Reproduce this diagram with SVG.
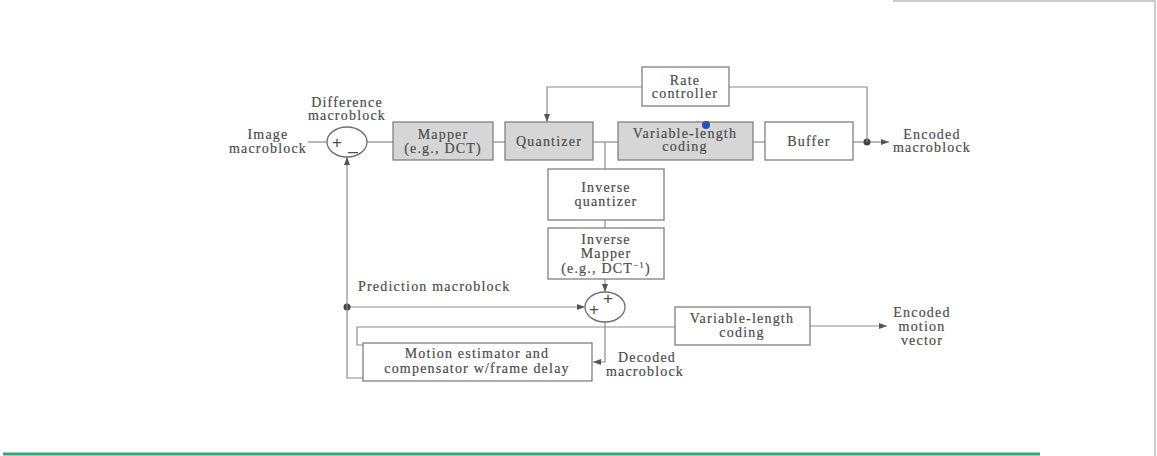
<svg xmlns="http://www.w3.org/2000/svg" width="1157" height="456" viewBox="0 0 1157 456">
<defs>
<marker id="ah" markerWidth="8" markerHeight="6" refX="8" refY="3" orient="auto" markerUnits="userSpaceOnUse">
<path d="M0,0 L8,3 L0,6 Z" fill="#555"/>
</marker>
<style>
.t{font-family:"Liberation Serif","Times New Roman",serif;font-size:14px;fill:#4d4d4d;stroke:#4d4d4d;stroke-width:0.2px;letter-spacing:1.2px;text-anchor:middle}
.tl{text-anchor:start}
.box{fill:#fff;stroke:#808080;stroke-width:1.3}
.gbox{fill:#d6d6d6;stroke:#808080;stroke-width:1.3}
.ln{fill:none;stroke:#8c8c8c;stroke-width:1.2}
.ar{fill:none;stroke:#8c8c8c;stroke-width:1.2;marker-end:url(#ah)}
.sum{fill:#fff;stroke:#707070;stroke-width:1.3}
.op{font-family:"Liberation Sans",Arial,sans-serif;font-size:17px;fill:#4d4d4d;text-anchor:middle}
</style>
</defs>
<rect width="1157" height="456" fill="#fff"/>
<path d="M893,1 H1155 V456" fill="none" stroke="#bbb" stroke-width="1.5"/>
<line x1="3" y1="454" x2="1040" y2="454" stroke="#2fa878" stroke-width="3"/>

<g id="connectors">
<line class="ln" x1="308" y1="142" x2="327" y2="142"/>
<line class="ln" x1="367" y1="142" x2="393" y2="142"/>
<line class="ln" x1="493" y1="142" x2="505" y2="142"/>
<line class="ln" x1="593" y1="142" x2="618" y2="142"/>
<line class="ln" x1="753" y1="142" x2="765" y2="142"/>
<line class="ln" x1="853" y1="142" x2="867" y2="142"/>
<line class="ar" x1="867" y1="142" x2="889" y2="142"/>
<circle cx="867" cy="142" r="3.5" fill="#444"/>
<path class="ar" d="M642,87 H547 V122"/>
<path class="ln" d="M729,87 H867 V142"/>
<line class="ln" x1="605" y1="142" x2="605" y2="169"/>
<line class="ln" x1="605" y1="220" x2="605" y2="228"/>
<line class="ar" x1="605" y1="279" x2="605" y2="292"/>
<line class="ar" x1="347" y1="307" x2="585" y2="307"/>
<circle cx="347" cy="307" r="3.5" fill="#444"/>
<path class="ar" d="M363,378 H347 V157"/>
<path class="ar" d="M605,322 V362 H593"/>
<path class="ln" d="M363,345 H357 V327 H675"/>
<line class="ar" x1="810" y1="326" x2="887" y2="326"/>
</g>

<g id="image-macroblock">
<text class="t" x="268" y="139">Image</text>
<text class="t" x="268" y="153">macroblock</text>
</g>
<g id="subtractor">
<ellipse class="sum" cx="347" cy="142" rx="20" ry="15"/>
<text class="op" x="337" y="148">+</text>
<text class="op" x="353" y="150">_</text>
<text class="t" x="347" y="107">Difference</text>
<text class="t" x="347" y="120">macroblock</text>
</g>
<g id="mapper">
<rect class="gbox" x="393" y="122" width="100" height="38"/>
<text class="t" x="443" y="139">Mapper</text>
<text class="t" x="443" y="153">(e.g., DCT)</text>
</g>
<g id="quantizer">
<rect class="gbox" x="505" y="122" width="88" height="38"/>
<text class="t" x="549" y="146">Quantizer</text>
</g>
<g id="vlc1">
<rect class="gbox" x="618" y="122" width="135" height="38"/>
<text class="t" x="685" y="138">Variable-length</text>
<text class="t" x="685" y="151">coding</text>
<circle cx="706" cy="125" r="4" fill="#2d4fb5"/>
</g>
<g id="buffer">
<rect class="box" x="765" y="122" width="88" height="38"/>
<text class="t" x="809" y="146">Buffer</text>
</g>
<g id="rate-controller">
<rect class="box" x="642" y="67" width="87" height="39"/>
<text class="t" x="685" y="85">Rate</text>
<text class="t" x="685" y="98">controller</text>
</g>
<g id="encoded-macroblock">
<text class="t" x="932" y="139">Encoded</text>
<text class="t" x="932" y="152">macroblock</text>
</g>
<g id="inverse-quantizer">
<rect class="box" x="548" y="169" width="116" height="51"/>
<text class="t" x="606" y="192">Inverse</text>
<text class="t" x="606" y="206">quantizer</text>
</g>
<g id="inverse-mapper">
<rect class="box" x="548" y="228" width="116" height="51"/>
<text class="t" x="606" y="244">Inverse</text>
<text class="t" x="606" y="258">Mapper</text>
<text class="t" x="606" y="273">(e.g., DCT<tspan font-size="9" dy="-5">−1</tspan><tspan dy="5">)</tspan></text>
</g>
<g id="adder">
<ellipse class="sum" cx="605" cy="307" rx="20" ry="15"/>
<text class="op" x="594" y="315">+</text>
<text class="op" x="608" y="304">+</text>
</g>
<g id="prediction-label">
<text class="t tl" x="358" y="291">Prediction macroblock</text>
</g>
<g id="motion-estimator">
<rect class="box" x="363" y="343" width="229" height="38"/>
<text class="t" x="477" y="358">Motion estimator and</text>
<text class="t" x="477" y="373">compensator w/frame delay</text>
</g>
<g id="decoded-macroblock">
<text class="t" x="647" y="362">Decoded</text>
<text class="t" x="645" y="376">macroblock</text>
</g>
<g id="vlc2">
<rect class="box" x="675" y="307" width="135" height="38"/>
<text class="t" x="742" y="323">Variable-length</text>
<text class="t" x="742" y="337">coding</text>
</g>
<g id="encoded-motion-vector">
<text class="t" x="922" y="317">Encoded</text>
<text class="t" x="922" y="331">motion</text>
<text class="t" x="922" y="345">vector</text>
</g>
</svg>
